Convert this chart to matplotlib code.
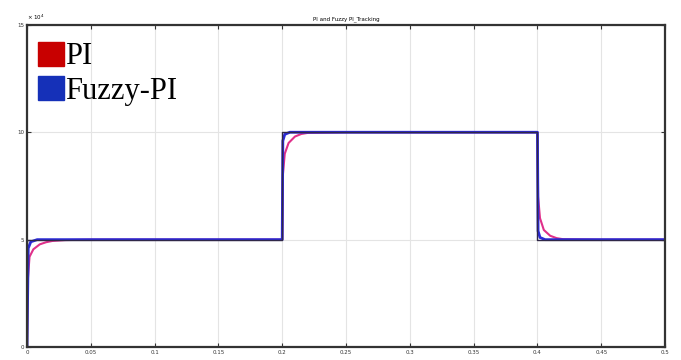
import matplotlib
matplotlib.use('Agg')
import matplotlib.pyplot as plt
from matplotlib.patches import Patch

# time (s) and response values (x 10^4)
t_ref = [0, 0, 0.2, 0.2, 0.4, 0.4, 0.5]
ref = [0, 5, 5, 10, 10, 5, 5]

t_pi = [0, 0.0005, 0.002, 0.005, 0.01, 0.015, 0.02, 0.03, 0.05,
        0.2, 0.2005, 0.202, 0.205, 0.21, 0.215, 0.22, 0.25,
        0.4, 0.4005, 0.402, 0.405, 0.41, 0.415, 0.42, 0.45, 0.5]
pi_val = [0, 3.0, 4.2, 4.55, 4.78, 4.88, 4.94, 4.98, 5.0,
          5.0, 8.0, 9.0, 9.5, 9.8, 9.92, 9.97, 10.0,
          10.0, 7.0, 6.0, 5.45, 5.18, 5.07, 5.02, 5.0, 5.0]

t_fz = [0, 0.001, 0.003, 0.008, 0.2, 0.2005, 0.202, 0.206,
        0.4, 0.4005, 0.402, 0.406, 0.5]
fz_val = [0, 4.6, 4.9, 5.0, 5.0, 9.6, 9.9, 10.0,
          10.0, 5.4, 5.1, 5.0, 5.0]

xticks = [0, 0.05, 0.1, 0.15, 0.2, 0.25, 0.3, 0.35, 0.4, 0.45, 0.5]
xlabels = ['0', '0.05', '0.1', '0.15', '0.2', '0.25', '0.3', '0.35', '0.4', '0.45', '0.5']
yticks = [0, 5, 10, 15]

fig = plt.figure(figsize=(6.81, 3.6), dpi=100)
ax = fig.add_axes([0.0396, 0.036, 0.937, 0.895])

ax.plot(t_pi, pi_val, color='#e0308a', lw=1.5)
ax.plot(t_fz, fz_val, color='#2a2ad8', lw=2.0)
ax.plot(t_ref, ref, color='#302848', lw=1.0)

ax.set_xlim(0, 0.5)
ax.set_ylim(0, 15)
ax.set_xticks(xticks)
ax.set_xticklabels(xlabels)
ax.set_yticks(yticks)
ax.tick_params(direction='in', top=True, right=True, labelsize=4, length=3, pad=2, colors='#333333')
ax.grid(True, color='#e4e4e4', lw=0.8)
for s in ax.spines.values():
    s.set_linewidth(1.6)
    s.set_color('#333333')

ax.set_title('PI and Fuzzy PI_Tracking', fontsize=4, pad=3)
ax.text(0.0, 1.01, '× 10$^4$', transform=ax.transAxes, fontsize=4, va='bottom')

handles = [Patch(color='#c80000'), Patch(color='#1530b8')]
leg = ax.legend(handles, ['PI', 'Fuzzy-PI'], loc='upper left', frameon=False,
                prop={'family': 'Liberation Serif', 'size': 22},
                handlelength=0.85, handleheight=0.85, handletextpad=0.05,
                labelspacing=0.15, borderpad=0, borderaxespad=0,
                bbox_to_anchor=(0.017, 0.948))

fig.savefig('out.png', dpi=100)
